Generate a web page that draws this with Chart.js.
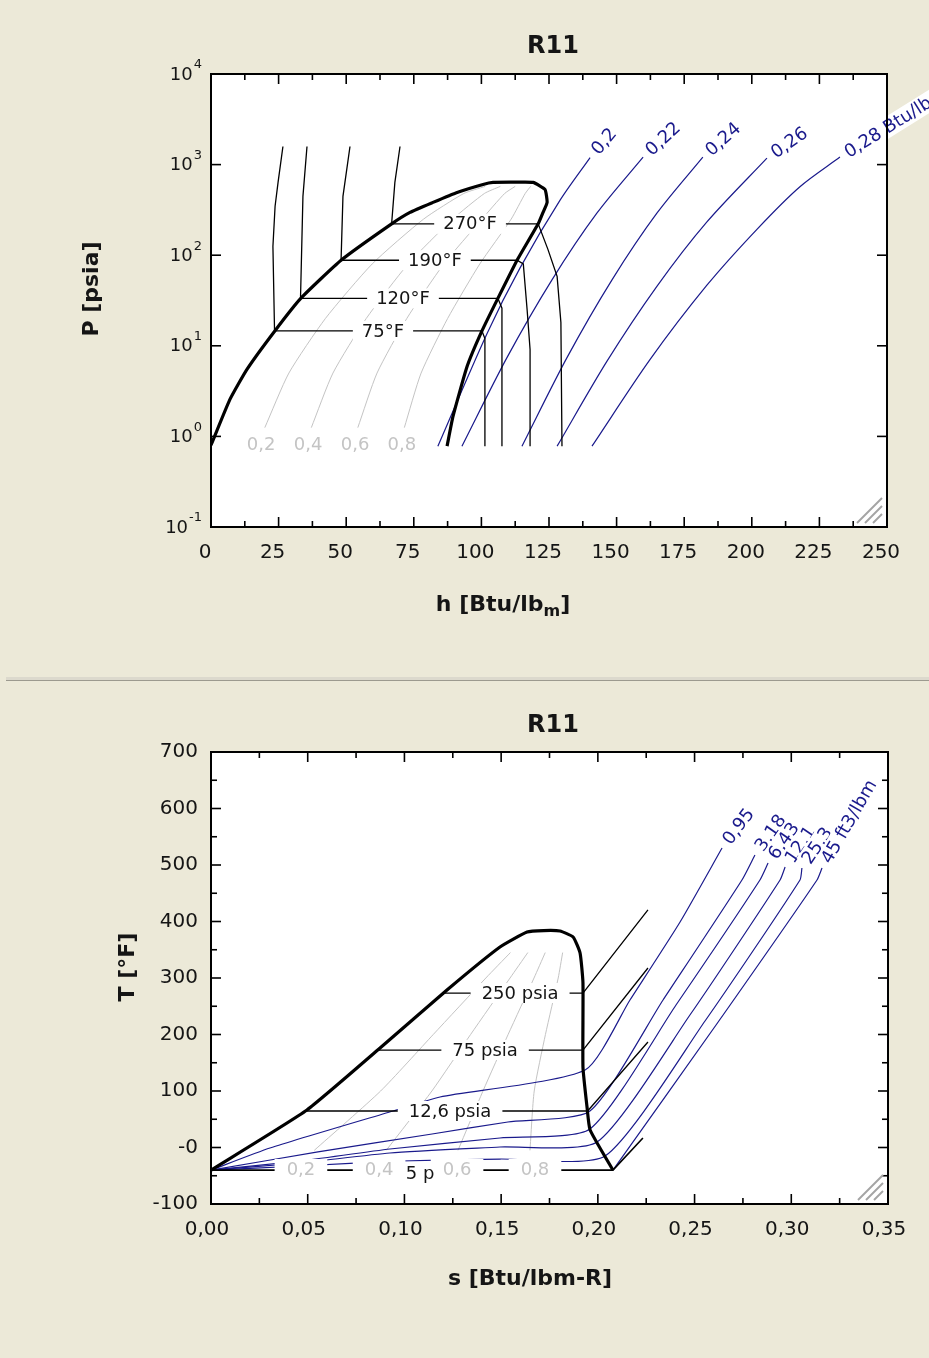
<!DOCTYPE html>
<html>
<head>
<meta charset="utf-8">
<title>R11</title>
<script src="https://cdn.jsdelivr.net/npm/chart.js@4.4.1/dist/chart.umd.min.js"></script>
<style>
  html, body { margin: 0; padding: 0; }
  body { width: 929px; height: 1358px; background: #ece9d8; position: relative; overflow: hidden; }
  canvas { position: absolute; left: 0; }
  #ph { top: 0; }
  #ts { top: 681px; }
  .split { position: absolute; left: 6px; width: 923px; top: 677px; height: 3px; background: #dcd9cd; border-bottom: 1px solid #9c9a8f; }
</style>
</head>
<body>
<canvas id="ph" width="929" height="677" style="width:929px;height:677px"></canvas>
<div class="split"></div>
<canvas id="ts" width="929" height="677" style="width:929px;height:677px"></canvas>
<script>
Chart.defaults.font.family = "'DejaVu Sans', 'Liberation Sans', sans-serif";
Chart.defaults.color = '#151515';

const NAVY = '#1a1a8c';
const GREY = '#c4c4c4';

// ---------- P-h diagram ----------
const hTicks = [0, 25, 50, 75, 100, 125, 150, 175, 200, 225, 250];
const pExponents = [-1, 0, 1, 2, 3, 4];

// saturation dome: liquid line, over the critical point, down the vapour line
const domeH = [0, 7, 13.3, 23.6, 33.2, 48.1, 66.8, 73.6, 82.1, 91.0, 100.6, 104.3, 112, 119.1, 123.5, 124.3, 122.8, 121, 113.2, 106.1, 100.2, 94.7, 89.5, 87.3];
const domeP = [0.8, 2.56, 5.5, 14.6, 33.4, 88, 222, 297, 383, 493, 604, 636, 639, 636, 532, 383, 297, 222, 88, 33.4, 14.6, 5.9, 1.66, 0.78];

// isotherms: liquid, across the dome, then vapour
const t75H = [26.6, 24.8, 23.7, 22.9, 23.5, 100.2, 101.3, 101.3];
const t75P = [1585, 636, 347, 125, 14.6, 14.6, 12, 0.78];
const t120H = [35.5, 34.0, 33.1, 106.1, 107.6, 107.6];
const t120P = [1585, 446, 33.4, 33.4, 26, 0.78];
const t190H = [51.4, 48.8, 48.1, 113.2, 115.5, 116.9, 118, 118];
const t190P = [1585, 446, 88, 88, 80, 25.2, 9.1, 0.78];
const t270H = [69.9, 68.0, 66.8, 121, 124.6, 128, 129.4, 129.8];
const t270P = [1585, 636, 222, 222, 116, 58.4, 18.1, 0.78];

// quality lines inside the dome
const qualP = [1.25, 5, 20, 80, 250, 480, 575];
const q02H = [19.9, 28.8, 42.3, 59.6, 78.6, 93.5, 101.4];
const q04H = [37.1, 45.1, 57.4, 72.9, 89.4, 101.1, 107.0];
const q06H = [54.3, 61.4, 72.4, 86.1, 100.2, 108.6, 112.5];
const q08H = [71.5, 77.7, 87.5, 99.4, 111.0, 116.2, 118.2];

// isentropes, Btu/lbm-R
const s020H = [83.9, 102.1, 114.3, 129.1, 140.2];
const s020P = [0.78, 13.7, 72.4, 405, 1195];
const s022H = [92.8, 109.5, 126.1, 142.7, 159.8];
const s022P = [0.78, 7.45, 53.5, 291, 1210];
const s024H = [115, 131.7, 148.3, 164.9, 181.9];
const s024P = [0.78, 7.45, 53.5, 291, 1210];
const s026H = [128, 146.4, 164.9, 183.4, 205.6];
const s026P = [0.78, 6.73, 45.3, 233, 1180];
const s028H = [140.9, 162.4, 183.4, 201.9, 217.8, 232.6];
const s028P = [0.78, 7.07, 46.6, 193, 570, 1210];

// ---------- T-s diagram ----------
const sTicks = [0, 0.05, 0.10, 0.15, 0.20, 0.25, 0.30, 0.35];
const tTicks = [-100, 0, 100, 200, 300, 400, 500, 600, 700];

const tDomeS = [0, 0.0496, 0.0874, 0.122, 0.1494, 0.1634, 0.172, 0.1804, 0.1872, 0.1908, 0.1923, 0.1923, 0.1944, 0.196, 0.2078];
const tDomeT = [-40, 66.4, 176, 278.8, 354.9, 381.4, 384, 383.2, 372.6, 344.2, 291.2, 142.5, 71.7, 31, -40];

// isobars
const p250S = [0.1197, 0.1923, 0.2259];
const p250T = [273.4, 273.4, 420.4];
const p75S = [0.0868, 0.1923, 0.2259];
const p75T = [172.5, 172.5, 317.7];
const p12S = [0.0488, 0.1947, 0.2259];
const p12T = [64.6, 64.6, 186.7];
const p5S = [0, 0.2078, 0.2233];
const p5T = [-40, -40, 16.8];

// quality lines
const qualT = [-5, 100, 200, 300, 345];
const x02S = [0.0534, 0.0877, 0.1149, 0.1421, 0.1548];
const x04S = [0.0906, 0.1142, 0.1342, 0.1546, 0.1638];
const x06S = [0.1277, 0.1406, 0.1536, 0.1670, 0.1728];
const x08S = [0.1649, 0.1671, 0.1729, 0.1795, 0.1818];

// constant specific volume lines, ft3/lbm
const v1S = [0, 0.0305, 0.0941, 0.1184, 0.1934, 0.2166, 0.2425, 0.2642];
const v1T = [-40, -0.9, 64.6, 89.4, 137.2, 261.1, 399.2, 530.1];
const v2S = [0, 0.0553, 0.1143, 0.1535, 0.1959, 0.2337, 0.2745, 0.2812];
const v2T = [-40, -7.9, 23.9, 45.1, 64.6, 261.1, 473.5, 517.7];
const v3S = [0, 0.0460, 0.0925, 0.1494, 0.1959, 0.2404, 0.2838, 0.2880];
const v3T = [-40, -23.9, -2.7, 16.8, 32.7, 252.2, 473.5, 503.5];
const v4S = [0, 0.0460, 0.0925, 0.1494, 0.1996, 0.2476, 0.2942, 0.2968];
const v4T = [-40, -27.4, -9.7, 0.9, 9.7, 234.5, 473.5, 496.5];
const v5S = [0, 0.0460, 0.0977, 0.1494, 0.2037, 0.2554, 0.3045, 0.3055];
const v5T = [-40, -32.7, -23.9, -20.4, -15.1, 223.9, 473.5, 494.7];
const v6S = [0.2078, 0.2611, 0.3133, 0.3159];
const v6T = [-40, 216.8, 473.5, 494.7];

// ---------- helpers ----------
function curve(xs, ys, color, width, tension, order) {
  return {
    data: xs.map((x, i) => ({ x: x, y: ys[i] })),
    borderColor: color, borderWidth: width, pointRadius: 0,
    showLine: true, fill: false, tension: tension, order: order
  };
}

function boxText(ctx, text, px, py, opt) {
  ctx.save();
  ctx.translate(px, py);
  if (opt.angle) ctx.rotate(opt.angle * Math.PI / 180);
  ctx.font = (opt.size || 18) + "px 'DejaVu Sans'";
  const w = ctx.measureText(text).width;
  const x0 = opt.align === 'left' ? 0 : -w / 2;
  const pad = opt.pad == null ? 8 : opt.pad;
  const h = opt.boxH || 20;
  ctx.fillStyle = '#fff';
  ctx.fillRect(x0 - pad, -h / 2, w + 2 * pad, h);
  ctx.fillStyle = opt.color || '#151515';
  ctx.textAlign = 'left';
  ctx.textBaseline = 'middle';
  ctx.fillText(text, x0, 1);
  ctx.restore();
}

function seg(ctx, x1, y1, x2, y2) {
  ctx.beginPath(); ctx.moveTo(x1, y1); ctx.lineTo(x2, y2); ctx.stroke();
}

function frameAndTicks(ctx, a, xs, ys, xMajor, xMinor, yMajor, yMinor) {
  ctx.save();
  ctx.strokeStyle = '#000';
  ctx.lineWidth = 1.6;
  xMinor.forEach(v => { const p = xs.getPixelForValue(v); seg(ctx, p, a.bottom, p, a.bottom - 6); seg(ctx, p, a.top, p, a.top + 6); });
  xMajor.forEach(v => { const p = xs.getPixelForValue(v); seg(ctx, p, a.bottom, p, a.bottom - 10); seg(ctx, p, a.top, p, a.top + 10); });
  yMinor.forEach(v => { const p = ys.getPixelForValue(v); seg(ctx, a.left, p, a.left + 6, p); seg(ctx, a.right, p, a.right - 6, p); });
  yMajor.forEach(v => { const p = ys.getPixelForValue(v); seg(ctx, a.left, p, a.left + 10, p); seg(ctx, a.right, p, a.right - 10, p); });
  ctx.lineWidth = 2;
  ctx.strokeRect(a.left, a.top, a.width, a.height);
  // resize grip in the lower right corner
  ctx.strokeStyle = '#a4a4a4';
  ctx.lineWidth = 2;
  [0, 8, 16].forEach(d => seg(ctx, a.right - 30 + d, a.bottom - 4, a.right - 5, a.bottom - 29 + d));
  ctx.restore();
}

function title(ctx, text, cx, cy) {
  ctx.save();
  ctx.font = "bold 24px 'DejaVu Sans'";
  ctx.fillStyle = '#151515';
  ctx.textAlign = 'center';
  ctx.textBaseline = 'middle';
  ctx.fillText(text, cx, cy);
  ctx.restore();
}

function axisTitle(ctx, text, cx, cy, rotate) {
  ctx.save();
  ctx.translate(cx, cy);
  if (rotate) ctx.rotate(-Math.PI / 2);
  ctx.font = "bold 22px 'DejaVu Sans'";
  ctx.fillStyle = '#151515';
  ctx.textAlign = 'center';
  ctx.textBaseline = 'middle';
  ctx.fillText(text, 0, 0);
  ctx.restore();
}

function baseOptions(xOpts, yOpts, pad) {
  return {
    responsive: false, maintainAspectRatio: false, animation: false, events: [],
    layout: { padding: pad },
    plugins: { legend: { display: false }, tooltip: { enabled: false } },
    scales: { x: xOpts, y: yOpts }
  };
}

// ---------- P-h chart ----------
const phTempLabels = [
  { text: '270°F', h: 95.8, p: t270P[2] },
  { text: '190°F', h: 82.8, p: t190P[2] },
  { text: '120°F', h: 71.0, p: t120P[2] },
  { text: '75°F', h: 63.6, p: t75P[4] }
];
const phQualLabels = [['0,2', 18.5], ['0,4', 35.9], ['0,6', 53.3], ['0,8', 70.6]];
const phEntropyLabels = [
  { text: '0,2', xs: s020H, ys: s020P, angle: -50 },
  { text: '0,22', xs: s022H, ys: s022P, angle: -43 },
  { text: '0,24', xs: s024H, ys: s024P, angle: -42 },
  { text: '0,26', xs: s026H, ys: s026P, angle: -35 },
  { text: '0,28 Btu/lbm-R', xs: s028H, ys: s028P, angle: -32 }
];

const phDecor = {
  id: 'phDecor',
  beforeDraw(chart) {
    const { ctx, chartArea: a } = chart;
    ctx.save(); ctx.fillStyle = '#fff'; ctx.fillRect(a.left, a.top, a.width, a.height); ctx.restore();
  },
  afterDatasetsDraw(chart) {
    const { ctx, scales: { x, y } } = chart;
    phTempLabels.forEach(l => boxText(ctx, l.text, x.getPixelForValue(l.h), y.getPixelForValue(l.p), { pad: 9 }));
    phQualLabels.forEach(l => boxText(ctx, l[0], x.getPixelForValue(l[1]), y.getPixelForValue(0.816), { color: '#c4c4c4', pad: 4 }));
    phEntropyLabels.forEach(l => {
      const n = l.xs.length - 1;
      const r = l.angle * Math.PI / 180;
      const px = x.getPixelForValue(l.xs[n]) + 7 * Math.cos(r);
      const py = y.getPixelForValue(l.ys[n]) + 7 * Math.sin(r);
      boxText(ctx, l.text, px, py, { angle: l.angle, align: 'left', color: NAVY, pad: 2 });
    });
  },
  afterDraw(chart) {
    const { ctx, chartArea: a, scales: { x, y } } = chart;
    const minorH = [];
    for (let v = 12.5; v < 250; v += 25) minorH.push(v);
    const decades = pExponents.map(e => Math.pow(10, e));
    frameAndTicks(ctx, a, x, y, hTicks, minorH, decades, []);
    // decade labels with superscript exponents
    ctx.save();
    ctx.fillStyle = '#151515';
    ctx.textBaseline = 'middle';
    pExponents.forEach(e => {
      const py = y.getPixelForValue(Math.pow(10, e));
      ctx.font = "13px 'DejaVu Sans'";
      const we = ctx.measureText(String(e)).width;
      ctx.font = "18px 'DejaVu Sans'";
      const wb = ctx.measureText('10').width;
      const right = 202;
      ctx.fillText('10', right - we - wb - 1, py + 1);
      ctx.font = "13px 'DejaVu Sans'";
      ctx.fillText(String(e), right - we, py - 9);
    });
    ctx.restore();
    title(ctx, 'R11', 553, 47);
    axisTitle(ctx, 'P [psia]', 92, 289, true);
    // h axis title with subscript m
    ctx.save();
    ctx.fillStyle = '#151515';
    ctx.textBaseline = 'alphabetic';
    ctx.font = "bold 22px 'DejaVu Sans'";
    const w1 = ctx.measureText('h [Btu/lb').width, w3 = ctx.measureText(']').width;
    ctx.font = "bold 16px 'DejaVu Sans'";
    const w2 = ctx.measureText('m').width;
    const x0 = 503 - (w1 + w2 + w3) / 2;
    ctx.font = "bold 22px 'DejaVu Sans'";
    ctx.fillText('h [Btu/lb', x0, 611);
    ctx.font = "bold 16px 'DejaVu Sans'";
    ctx.fillText('m', x0 + w1, 616);
    ctx.font = "bold 22px 'DejaVu Sans'";
    ctx.fillText(']', x0 + w1 + w2, 611);
    ctx.restore();
  }
};

new Chart(document.getElementById('ph'), {
  type: 'scatter',
  data: {
    datasets: [
      curve(domeH, domeP, '#000', 3.2, 0.15, 0),
      curve(t75H, t75P, '#000', 1.3, 0, 1),
      curve(t120H, t120P, '#000', 1.3, 0, 1),
      curve(t190H, t190P, '#000', 1.3, 0, 1),
      curve(t270H, t270P, '#000', 1.3, 0, 1),
      curve(s020H, s020P, NAVY, 1.2, 0.3, 2),
      curve(s022H, s022P, NAVY, 1.2, 0.3, 2),
      curve(s024H, s024P, NAVY, 1.2, 0.3, 2),
      curve(s026H, s026P, NAVY, 1.2, 0.3, 2),
      curve(s028H, s028P, NAVY, 1.2, 0.3, 2),
      curve(q02H, qualP, GREY, 1, 0.2, 3),
      curve(q04H, qualP, GREY, 1, 0.2, 3),
      curve(q06H, qualP, GREY, 1, 0.2, 3),
      curve(q08H, qualP, GREY, 1, 0.2, 3)
    ]
  },
  options: baseOptions(
    {
      type: 'linear', min: 0, max: 250,
      grid: { display: false, drawTicks: false }, border: { display: false },
      ticks: { padding: 14, labelOffset: -6, font: { size: 20 }, maxRotation: 0, autoSkip: false },
      afterBuildTicks: s => { s.ticks = hTicks.map(v => ({ value: v })); },
      afterFit: s => { s.height = 150; }
    },
    {
      type: 'logarithmic', min: 0.1, max: 10000,
      grid: { display: false, drawTicks: false }, border: { display: false },
      ticks: { display: false },
      afterFit: s => { s.width = 211; }
    },
    { left: 0, top: 74, right: 42, bottom: 0 }
  ),
  plugins: [phDecor]
});

// ---------- T-s chart ----------
const tsPressLabels = [
  { text: '250 psia', s: 0.1598, t: p250T[0] },
  { text: '75 psia', s: 0.1417, t: p75T[0] },
  { text: '12,6 psia', s: 0.1236, t: p12T[0] }
];
const tsQualLabels = [['0,2', 0.0465], ['0,4', 0.0869], ['0,6', 0.1272], ['0,8', 0.1675]];
const tsVolumeLabels = [
  { text: '0,95', xs: v1S, ys: v1T, angle: -53 },
  { text: '3,18', xs: v2S, ys: v2T, angle: -55 },
  { text: '6,43', xs: v3S, ys: v3T, angle: -55 },
  { text: '12,1', xs: v4S, ys: v4T, angle: -56 },
  { text: '25,3', xs: v5S, ys: v5T, angle: -56 },
  { text: '45 ft3/lbm', xs: v6S, ys: v6T, angle: -60 }
];

const tsDecor = {
  id: 'tsDecor',
  beforeDraw(chart) {
    const { ctx, chartArea: a } = chart;
    ctx.save(); ctx.fillStyle = '#fff'; ctx.fillRect(a.left, a.top, a.width, a.height); ctx.restore();
  },
  afterDatasetsDraw(chart) {
    const { ctx, scales: { x, y } } = chart;
    tsPressLabels.forEach(l => boxText(ctx, l.text, x.getPixelForValue(l.s), y.getPixelForValue(l.t), { pad: 11 }));
    tsQualLabels.forEach(l => boxText(ctx, l[0], x.getPixelForValue(l[1]), y.getPixelForValue(-38), { color: '#c4c4c4', pad: 12 }));
    boxText(ctx, '5 p', x.getPixelForValue(0.1081), y.getPixelForValue(-45), { pad: 2 });
    tsVolumeLabels.forEach(l => {
      const n = l.xs.length - 1;
      const r = l.angle * Math.PI / 180;
      const px = x.getPixelForValue(l.xs[n]) + 7 * Math.cos(r);
      const py = y.getPixelForValue(l.ys[n]) + 7 * Math.sin(r);
      boxText(ctx, l.text, px, py, { angle: l.angle, align: 'left', color: NAVY, pad: 2 });
    });
  },
  afterDraw(chart) {
    const { ctx, chartArea: a, scales: { x, y } } = chart;
    const minorS = [], minorT = [];
    for (let v = 0.025; v < 0.35; v += 0.05) minorS.push(v);
    for (let v = -50; v < 700; v += 100) minorT.push(v);
    frameAndTicks(ctx, a, x, y, sTicks, minorS, tTicks, minorT);
    title(ctx, 'R11', 553, 45);
    axisTitle(ctx, 'T [°F]', 128, 286, true);
    axisTitle(ctx, 's [Btu/lbm-R]', 530, 598, false);
  }
};

new Chart(document.getElementById('ts'), {
  type: 'scatter',
  data: {
    datasets: [
      curve(tDomeS, tDomeT, '#000', 3.2, 0.15, 0),
      curve(p250S, p250T, '#000', 1.3, 0, 1),
      curve(p75S, p75T, '#000', 1.3, 0, 1),
      curve(p12S, p12T, '#000', 1.3, 0, 1),
      curve(p5S, p5T, '#000', 1.6, 0, 1),
      curve(v1S, v1T, NAVY, 1.2, 0.2, 2),
      curve(v2S, v2T, NAVY, 1.2, 0.2, 2),
      curve(v3S, v3T, NAVY, 1.2, 0.2, 2),
      curve(v4S, v4T, NAVY, 1.2, 0.2, 2),
      curve(v5S, v5T, NAVY, 1.2, 0.2, 2),
      curve(v6S, v6T, NAVY, 1.2, 0.2, 2),
      curve(x02S, qualT, GREY, 1, 0.2, 3),
      curve(x04S, qualT, GREY, 1, 0.2, 3),
      curve(x06S, qualT, GREY, 1, 0.2, 3),
      curve(x08S, qualT, GREY, 1, 0.2, 3)
    ]
  },
  options: baseOptions(
    {
      type: 'linear', min: 0, max: 0.35,
      grid: { display: false, drawTicks: false }, border: { display: false },
      ticks: { padding: 14, labelOffset: -4, font: { size: 20 }, maxRotation: 0, autoSkip: false,
               callback: v => v.toFixed(2).replace('.', ',') },
      afterBuildTicks: s => { s.ticks = sTicks.map(v => ({ value: v })); },
      afterFit: s => { s.height = 154; }
    },
    {
      type: 'linear', min: -100, max: 700,
      grid: { display: false, drawTicks: false }, border: { display: false },
      ticks: { padding: 13, font: { size: 20 }, autoSkip: false,
               callback: v => (v === 0 ? '-0' : String(v)) },
      afterBuildTicks: s => { s.ticks = tTicks.map(v => ({ value: v })); },
      afterFit: s => { s.width = 211; }
    },
    { left: 0, top: 71, right: 41, bottom: 0 }
  ),
  plugins: [tsDecor]
});
</script>
</body>
</html>
